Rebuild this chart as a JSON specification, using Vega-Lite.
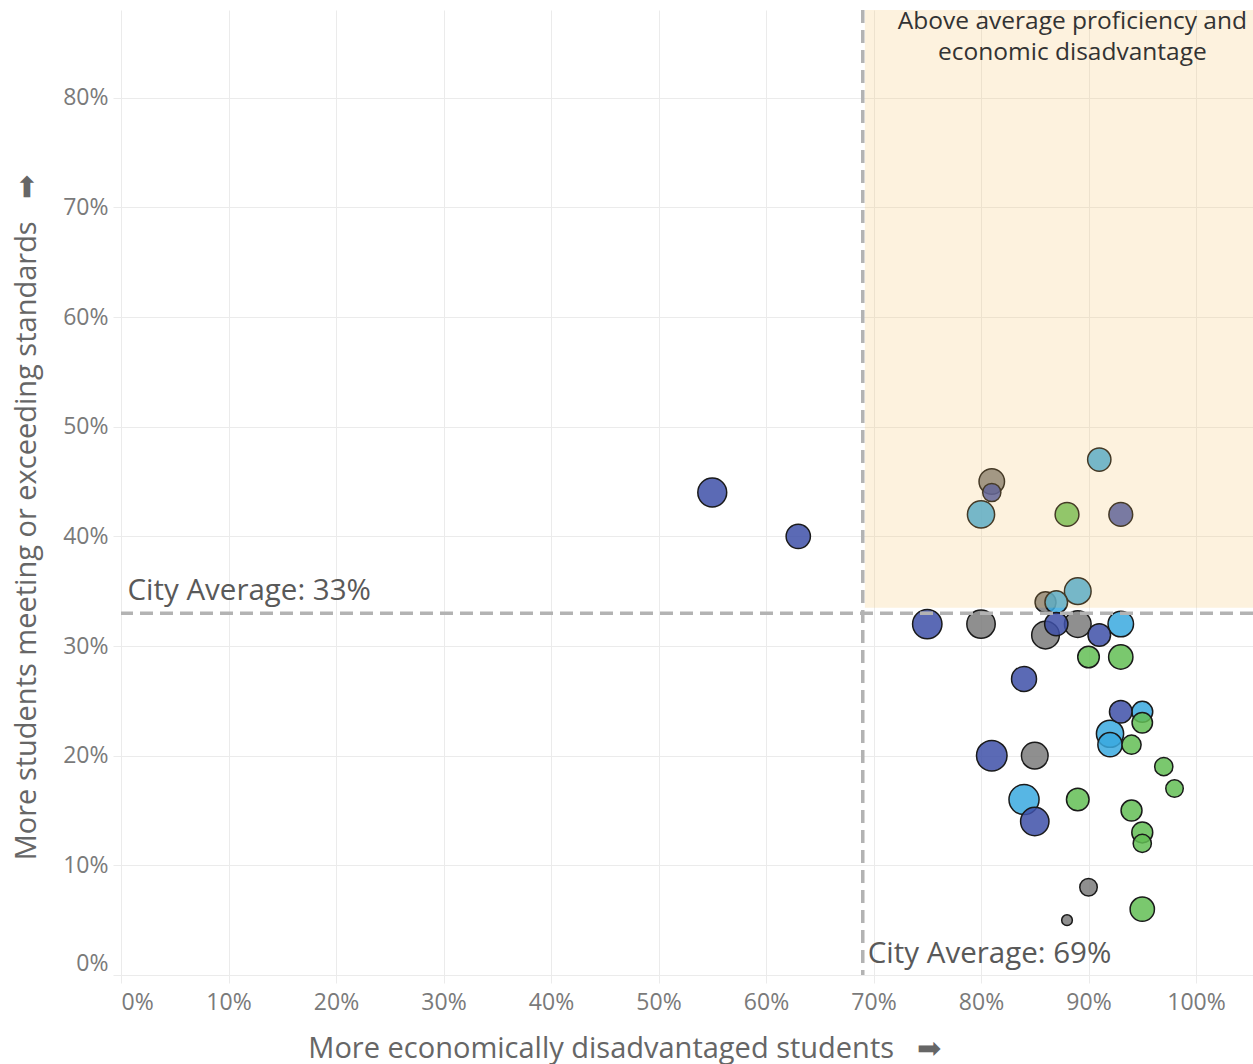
{
  "$schema": "https://vega.github.io/schema/vega-lite/v6.json",
  "width": 1132,
  "height": 965,
  "autosize": {"type": "none"},
  "padding": {"left": 121, "top": 10, "right": 0, "bottom": 89},
  "background": "white",
  "config": {
    "view": {"stroke": null},
    "font": "Open Sans",
    "axis": {
      "grid": true,
      "gridColor": "#EBEBEB",
      "gridWidth": 1,
      "domain": false,
      "tickColor": "#EBEBEB",
      "tickSize": 8,
      "labelColor": "#7a7a7a",
      "labelFontSize": 23,
      "labelOverlap": false,
      "labelFlush": 15,
      "titleColor": "#666666",
      "titleFontSize": 29,
      "titleFontWeight": "normal"
    }
  },
  "datasets": {
    "schools": [
      {"disadv": 0.81, "prof": 0.45, "group": "D", "enroll": 450},
      {"disadv": 0.86, "prof": 0.34, "group": "D", "enroll": 303},
      {"disadv": 0.80, "prof": 0.32, "group": "D", "enroll": 558},
      {"disadv": 0.86, "prof": 0.31, "group": "D", "enroll": 531},
      {"disadv": 0.89, "prof": 0.32, "group": "D", "enroll": 493},
      {"disadv": 0.85, "prof": 0.20, "group": "D", "enroll": 493},
      {"disadv": 0.90, "prof": 0.08, "group": "D", "enroll": 212},
      {"disadv": 0.88, "prof": 0.05, "group": "D", "enroll": 79},
      {"disadv": 0.91, "prof": 0.47, "group": "B", "enroll": 375},
      {"disadv": 0.80, "prof": 0.42, "group": "B", "enroll": 512},
      {"disadv": 0.89, "prof": 0.35, "group": "B", "enroll": 493},
      {"disadv": 0.87, "prof": 0.34, "group": "B", "enroll": 354},
      {"disadv": 0.93, "prof": 0.32, "group": "B", "enroll": 450},
      {"disadv": 0.95, "prof": 0.24, "group": "B", "enroll": 303},
      {"disadv": 0.92, "prof": 0.22, "group": "B", "enroll": 512},
      {"disadv": 0.92, "prof": 0.21, "group": "B", "enroll": 409},
      {"disadv": 0.84, "prof": 0.16, "group": "B", "enroll": 627},
      {"disadv": 0.88, "prof": 0.42, "group": "C", "enroll": 392},
      {"disadv": 0.90, "prof": 0.29, "group": "C", "enroll": 323},
      {"disadv": 0.93, "prof": 0.29, "group": "C", "enroll": 409},
      {"disadv": 0.95, "prof": 0.23, "group": "C", "enroll": 288},
      {"disadv": 0.94, "prof": 0.21, "group": "C", "enroll": 255},
      {"disadv": 0.97, "prof": 0.19, "group": "C", "enroll": 229},
      {"disadv": 0.98, "prof": 0.17, "group": "C", "enroll": 212},
      {"disadv": 0.89, "prof": 0.16, "group": "C", "enroll": 354},
      {"disadv": 0.94, "prof": 0.15, "group": "C", "enroll": 303},
      {"disadv": 0.95, "prof": 0.13, "group": "C", "enroll": 303},
      {"disadv": 0.95, "prof": 0.12, "group": "C", "enroll": 229},
      {"disadv": 0.95, "prof": 0.06, "group": "C", "enroll": 409},
      {"disadv": 0.55, "prof": 0.44, "group": "A", "enroll": 578},
      {"disadv": 0.63, "prof": 0.40, "group": "A", "enroll": 409},
      {"disadv": 0.81, "prof": 0.44, "group": "A", "enroll": 229},
      {"disadv": 0.93, "prof": 0.42, "group": "A", "enroll": 392},
      {"disadv": 0.75, "prof": 0.32, "group": "A", "enroll": 599},
      {"disadv": 0.87, "prof": 0.32, "group": "A", "enroll": 375},
      {"disadv": 0.91, "prof": 0.31, "group": "A", "enroll": 354},
      {"disadv": 0.84, "prof": 0.27, "group": "A", "enroll": 432},
      {"disadv": 0.93, "prof": 0.24, "group": "A", "enroll": 354},
      {"disadv": 0.81, "prof": 0.20, "group": "A", "enroll": 648},
      {"disadv": 0.85, "prof": 0.14, "group": "A", "enroll": 558}
    ],
    "region": [
      {"x1": 0.692, "x2": 1.053, "y1": 0.335, "y2": 0.88}
    ],
    "averages": [
      {"avg_disadv": 0.69, "avg_prof": 0.33}
    ]
  },
  "layer": [
    {
      "data": {"name": "schools"},
      "mark": {"type": "point", "filled": true, "shape": "circle", "fillOpacity": 0.85, "stroke": "#1a1a1a", "strokeWidth": 1.5, "strokeOpacity": 1},
      "encoding": {
        "x": {
          "field": "disadv", "type": "quantitative",
          "scale": {"domain": [0, 1.053], "nice": false, "zero": false},
          "axis": {
            "values": [0, 0.1, 0.2, 0.3, 0.4, 0.5, 0.6, 0.7, 0.8, 0.9, 1.0],
            "format": ".0%",
            "labelPadding": 8,
            "title": "More economically disadvantaged students\u00a0\u00a0\u00a0➡",
            "titleX": 503,
            "titleY": 82,
            "titleAlign": "center",
            "titleAnchor": null,
            "titleBaseline": "alphabetic"
          }
        },
        "y": {
          "field": "prof", "type": "quantitative",
          "scale": {"domain": [0, 0.88], "nice": false, "zero": false},
          "axis": {
            "values": [0, 0.1, 0.2, 0.3, 0.4, 0.5, 0.6, 0.7, 0.8],
            "format": ".0%",
            "labelPadding": 5,
            "title": "More students meeting or exceeding standards\u00a0\u00a0\u00a0➡",
            "titleX": -86,
            "titleY": 507,
            "titleAngle": -90,
            "titleAlign": "center",
            "titleAnchor": null,
            "titleBaseline": "alphabetic"
          }
        },
        "color": {
          "field": "group", "type": "nominal",
          "scale": {"domain": ["A", "B", "C", "D"], "range": ["#3E50A8", "#3AA9DF", "#63BE55", "#7B7B7B"]},
          "legend": null
        },
        "size": {
          "field": "enroll", "type": "quantitative",
          "scale": {"domain": [0, 648], "range": [0, 935], "zero": true},
          "legend": null
        }
      }
    },
    {
      "data": {"name": "region"},
      "mark": {"type": "rect", "color": "#F7BE5A", "opacity": 0.2},
      "encoding": {
        "x": {"field": "x1", "type": "quantitative"},
        "x2": {"field": "x2"},
        "y": {"field": "y1", "type": "quantitative"},
        "y2": {"field": "y2"}
      }
    },
    {
      "data": {"name": "averages"},
      "mark": {"type": "rule", "color": "#b3b3b3", "strokeWidth": 3.5, "strokeDash": [13, 7]},
      "encoding": {"x": {"field": "avg_disadv", "type": "quantitative"}}
    },
    {
      "data": {"name": "averages"},
      "mark": {"type": "rule", "color": "#b3b3b3", "strokeWidth": 3.5, "strokeDash": [13, 7]},
      "encoding": {"y": {"field": "avg_prof", "type": "quantitative"}}
    },
    {
      "data": {"values": [{"x": 0.006, "y": 0.33, "label": "City Average: 33%"}]},
      "mark": {"type": "text", "align": "left", "baseline": "alphabetic", "dy": -13, "fontSize": 29.5, "color": "#595959"},
      "encoding": {
        "x": {"field": "x", "type": "quantitative"},
        "y": {"field": "y", "type": "quantitative"},
        "text": {"field": "label"}
      }
    },
    {
      "data": {"values": [{"x": 0.69, "y": 0, "label": "City Average: 69%"}]},
      "mark": {"type": "text", "align": "left", "baseline": "alphabetic", "dx": 5, "dy": -12, "fontSize": 29.5, "color": "#595959"},
      "encoding": {
        "x": {"field": "x", "type": "quantitative"},
        "y": {"field": "y", "type": "quantitative"},
        "text": {"field": "label"}
      }
    },
    {
      "data": {"values": [{"x": 0.885, "y": 0.88, "label": ["Above average proficiency and", "economic disadvantage"]}]},
      "mark": {"type": "text", "align": "center", "baseline": "top", "dy": 0, "fontSize": 24.5, "lineHeight": 31, "color": "#333333"},
      "encoding": {
        "x": {"field": "x", "type": "quantitative"},
        "y": {"field": "y", "type": "quantitative"},
        "text": {"field": "label"}
      }
    }
  ]
}
